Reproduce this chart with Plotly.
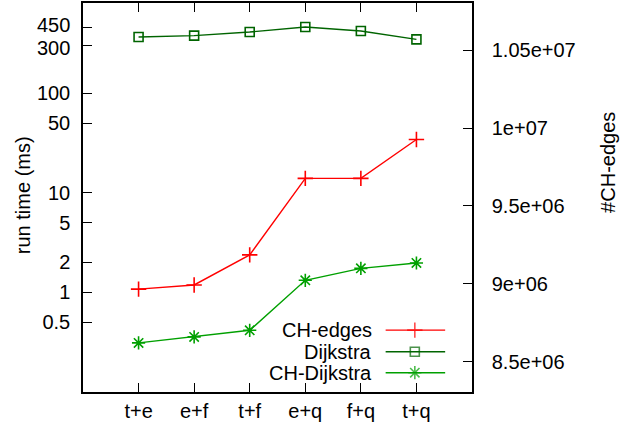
import math
import plotly.graph_objects as go

# ---- data ----
categories = ["t+e", "e+f", "t+f", "e+q", "f+q", "t+q"]
ch_edges = [8.965e6, 8.992e6, 9.185e6, 9.677e6, 9.677e6, 9.927e6]   # right axis (#CH-edges)
dijkstra = [365, 376, 409, 459, 419, 345]                             # left axis, ms
ch_dijkstra = [0.311, 0.357, 0.416, 1.32, 1.74, 1.97]                # left axis, ms

left_tickvals = [0.5, 1, 2, 5, 10, 50, 100, 300, 450]
left_ticktext = ["0.5", "1", "2", "5", "10", "50", "100", "300", "450"]
right_tickvals = [8.5e6, 9e6, 9.5e6, 1e7, 1.05e7]
right_ticktext = ["8.5e+06", "9e+06", "9.5e+06", "1e+07", "1.05e+07"]

series_names = ["CH-edges", "Dijkstra", "CH-Dijkstra"]

RED = "#ff0000"
DKGREEN = "#006400"
GREEN = "#00a000"
FONT = "Liberation Sans, Arial, Helvetica, sans-serif"
FS = 20

fig = go.Figure()

fig.add_trace(go.Scatter(
    x=categories, y=ch_edges, name=series_names[0], yaxis="y2",
    mode="lines+markers", line=dict(color=RED, width=1.4),
    marker=dict(symbol="cross-thin-open", size=11, line=dict(color=RED, width=1.6)),
))
fig.add_trace(go.Scatter(
    x=categories, y=dijkstra, name=series_names[1],
    mode="lines+markers", line=dict(color=DKGREEN, width=1.4),
    marker=dict(symbol="square-open", size=9, color=DKGREEN, line=dict(color=DKGREEN, width=1.6)),
))
fig.add_trace(go.Scatter(
    x=categories, y=ch_dijkstra, name=series_names[2],
    mode="lines+markers", line=dict(color=GREEN, width=1.4),
    marker=dict(symbol="asterisk-open", size=11, line=dict(color=GREEN, width=1.6)),
))

# ---- gnuplot-style key (text left of sample) on a hidden overlay axis ----
key_rows = [0.159, 0.1036, 0.0496]
key_x0, key_xm, key_x1, key_text_x = 0.778, 0.853, 0.931, 0.745
key_styles = [
    (RED, "cross-thin-open", 11),
    (DKGREEN, "square-open", 9),
    (GREEN, "asterisk-open", 11),
]
annotations = []
for name, ry, (col, sym, sz) in zip(series_names, key_rows, key_styles):
    fig.add_trace(go.Scatter(
        x=[key_x0, key_xm, key_x1], y=[ry, ry, ry], xaxis="x3", yaxis="y3",
        mode="lines+markers", showlegend=False, hoverinfo="skip",
        line=dict(color=col, width=1.4),
        marker=dict(symbol=sym, size=[0, sz, 0], color=col, line=dict(color=col, width=1.6)),
    ))
    annotations.append(dict(
        x=key_text_x, y=ry, xref="paper", yref="paper", text=name, showarrow=False,
        xanchor="right", yanchor="middle", borderpad=0,
        font=dict(family=FONT, size=FS, color="black"),
    ))

# the two crowded top tick labels are drawn as annotations, nudged apart slightly
crowded = {450: 2.5, 300: -2.5}
shown_ticktext = [("" if v in crowded else t) for v, t in zip(left_tickvals, left_ticktext)]
for v, t in zip(left_tickvals, left_ticktext):
    if v in crowded:
        annotations.append(dict(
            x=0, xref="paper", y=math.log10(v), yref="y", text=t, showarrow=False,
            xanchor="right", yanchor="middle", xshift=-12, yshift=crowded[v], borderpad=0,
            font=dict(family=FONT, size=FS, color="black"),
        ))

annotations.append(dict(
    x=0, y=0.506, xref="paper", yref="paper", text="run time (ms)", showarrow=False,
    textangle=-90, xanchor="center", yanchor="middle", xshift=-60,
    font=dict(family=FONT, size=FS, color="black"),
))
annotations.append(dict(
    x=1, y=0.589, xref="paper", yref="paper", text="#CH-edges", showarrow=False,
    textangle=-90, xanchor="center", yanchor="middle", xshift=136,
    font=dict(family=FONT, size=FS, color="black"),
))

axis_common = dict(showgrid=False, zeroline=False, linecolor="black", linewidth=1.5,
                   ticks="inside", ticklen=9, tickcolor="black", tickwidth=1.2,
                   tickfont=dict(family=FONT, size=FS, color="black"))

fig.update_layout(
    width=629, height=430,
    margin=dict(l=83, r=157, t=3, b=38, autoexpand=False),
    paper_bgcolor="white", plot_bgcolor="white",
    showlegend=False,
    font=dict(family=FONT, size=FS, color="black"),
    xaxis=dict(type="category", range=[-1, 6], showline=True, mirror="ticks", **axis_common),
    yaxis=dict(type="log", range=[-1.0, 2.903], showline=True, mirror=False,
               tickvals=left_tickvals, ticktext=shown_ticktext, ticklabelstandoff=7, **axis_common),
    yaxis2=dict(overlaying="y", side="right", range=[8.304e6, 1.0804e7], showline=True,
                tickvals=right_tickvals, ticktext=right_ticktext, ticklabelstandoff=14, **axis_common),
    xaxis3=dict(overlaying="x", range=[0, 1], visible=False),
    yaxis3=dict(overlaying="y", range=[0, 1], visible=False),
    annotations=annotations,
)

fig.write_html("out.html", config={"displayModeBar": False},
               post_script="document.body.style.margin='0';")
